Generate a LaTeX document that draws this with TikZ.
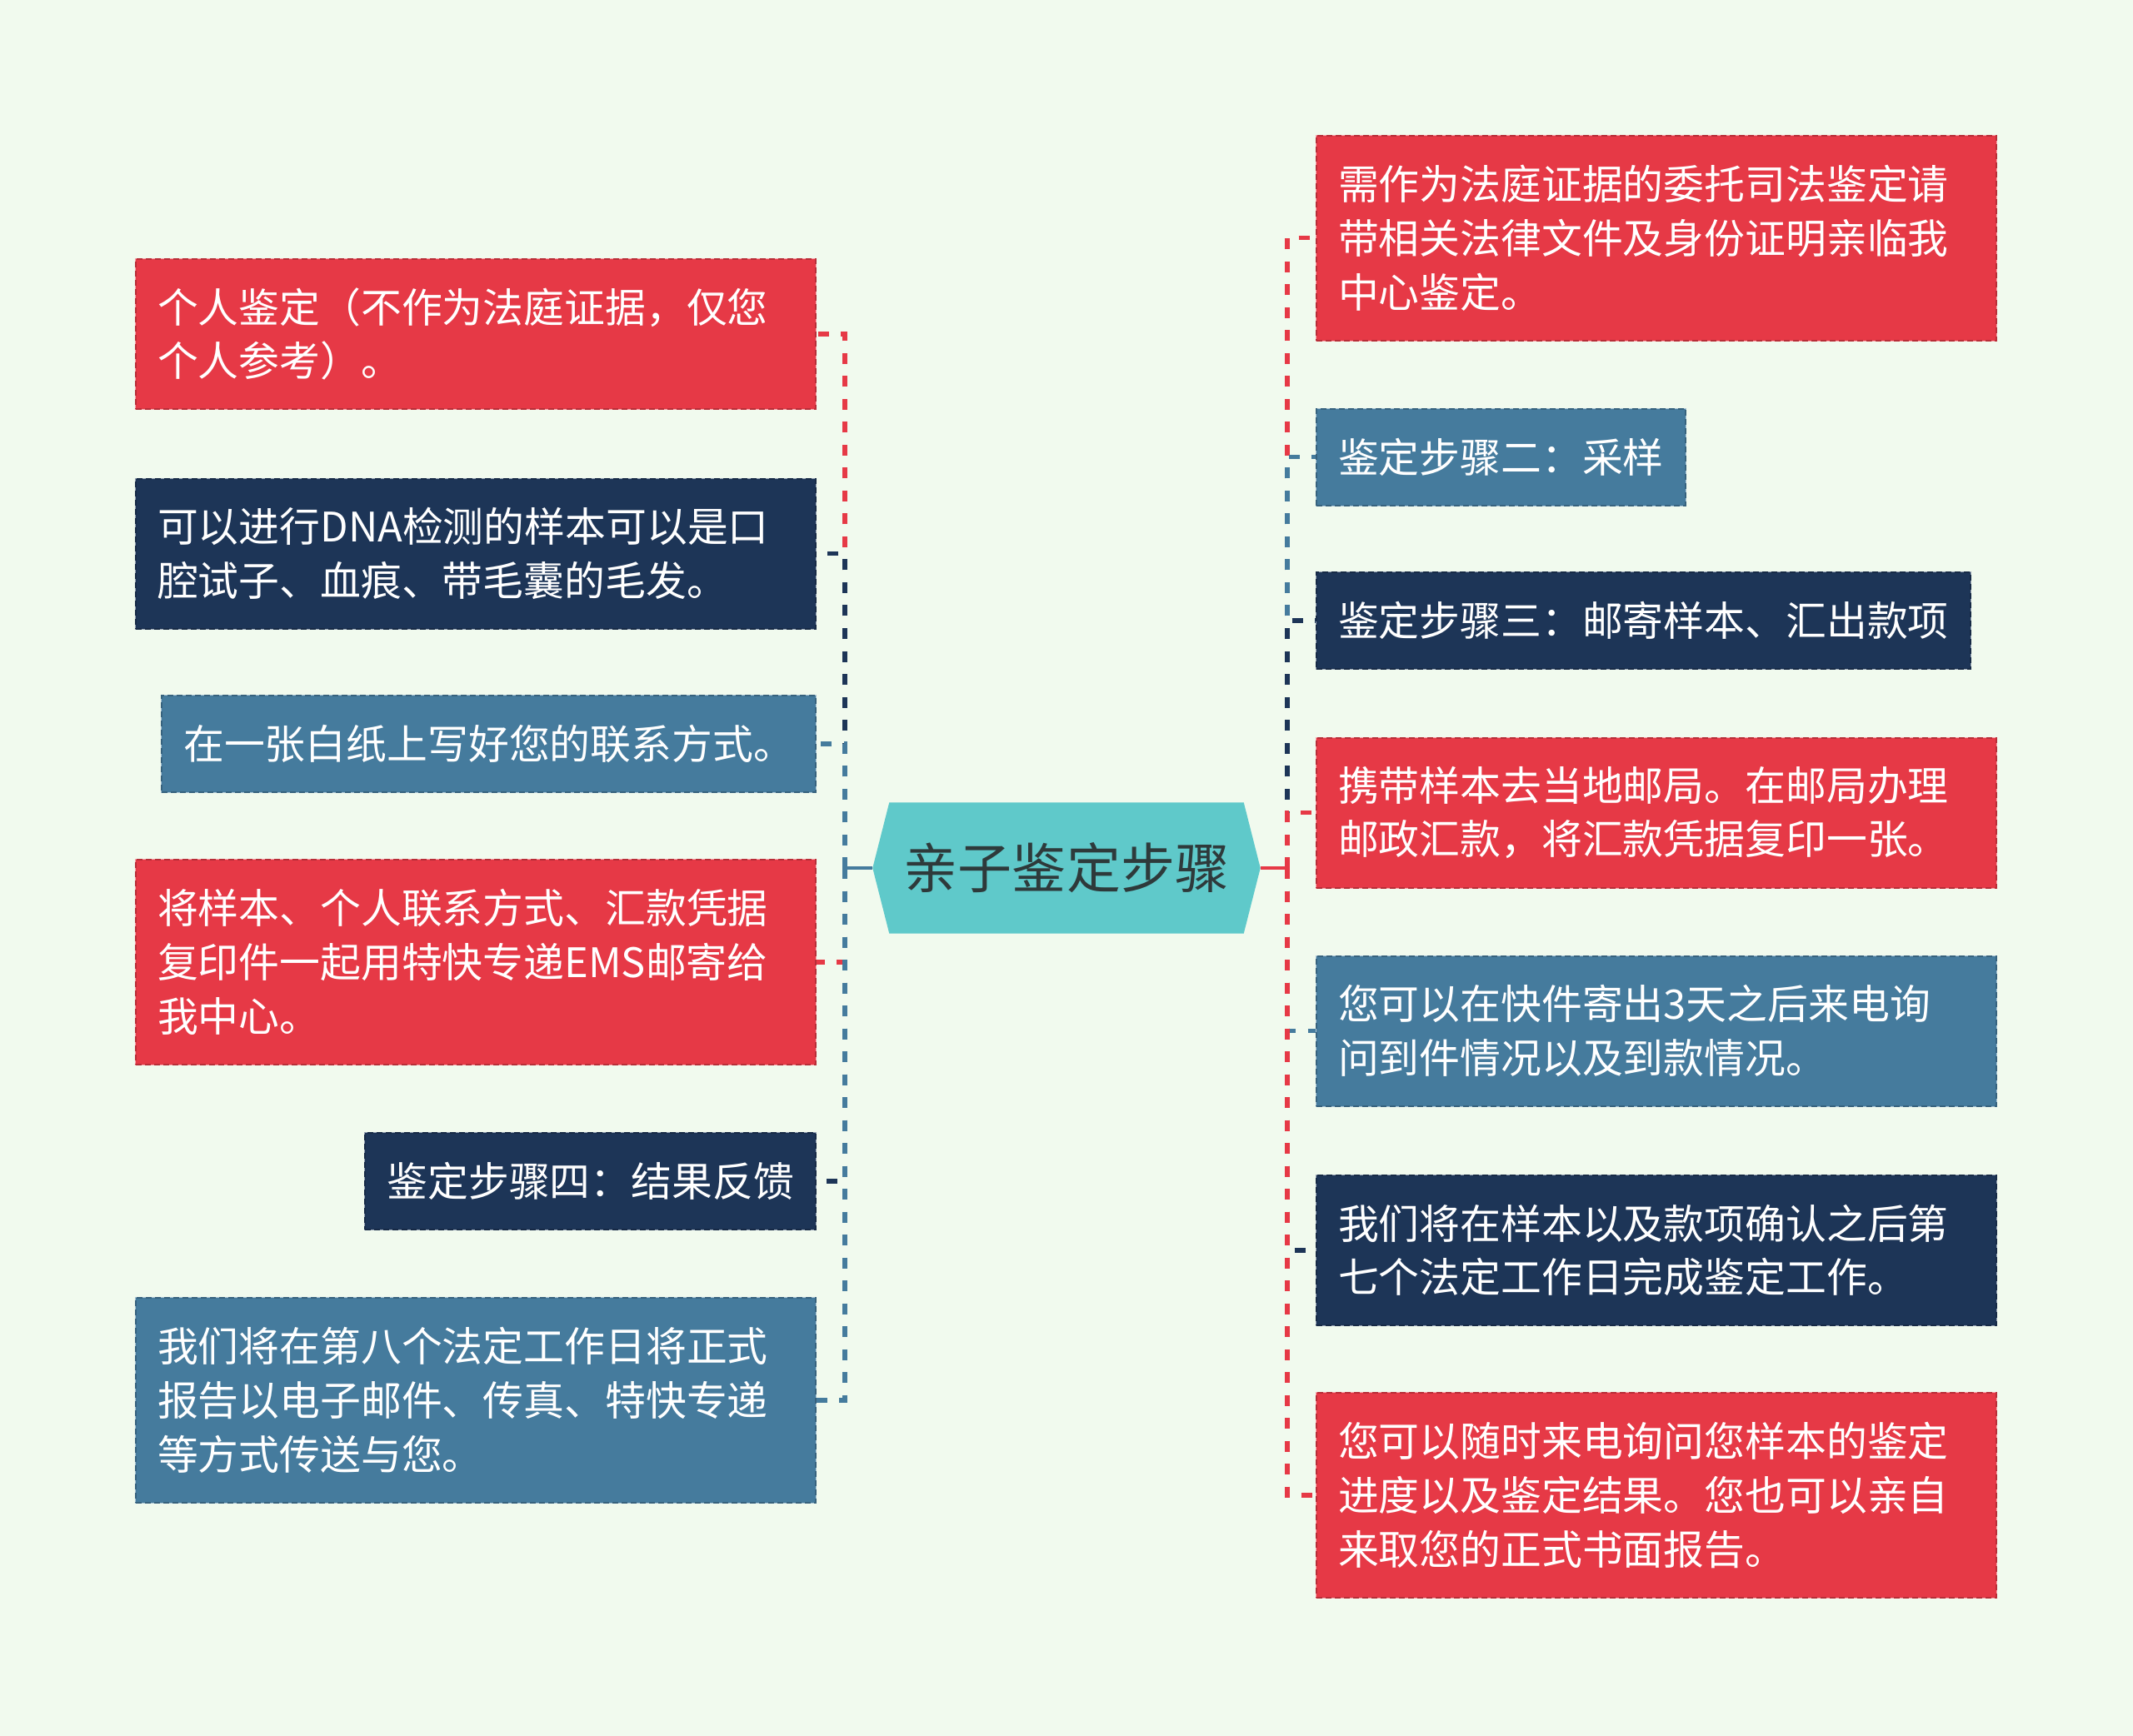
\documentclass[tikz,border=0pt]{standalone}
\usepackage{fontspec}
\setmainfont{Noto Sans CJK SC}
\usepackage{tikz}
\usetikzlibrary{calc,backgrounds}
\definecolor{cbg}{HTML}{F1FAEE}
\definecolor{cred}{HTML}{E63946}
\definecolor{cnavy}{HTML}{1D3557}
\definecolor{cblue}{HTML}{457B9D}
\definecolor{croot}{HTML}{5FC9CA}
\definecolor{croottext}{HTML}{2E3A3B}
\newcommand\leaffont{\fontsize{13.9pt}{18.45pt}\selectfont}
\newcommand\rootfont{\fontsize{18.5pt}{22pt}\selectfont}

\begin{document}
\begin{tikzpicture}[
  box/.style={rectangle, fill=#1, draw=#1!80!black, line width=0.02cm,
    dash pattern=on 0.07cm off 0.04cm,
    preaction={draw=#1!45!white, solid, line width=0.02cm},
    text=white, font=\leaffont, inner xsep=0.26cm, inner ysep=0pt, align=left},
  wide/.style={text width=7.64cm},
  one/.style={minimum height=1.16cm},
  two/.style={minimum height=1.80cm},
  three/.style={minimum height=2.46cm},
  conn/.style={draw=#1, line width=0.055cm, dash pattern=on 0.13cm off 0.145cm},
]
\begin{scope}[on background layer]
  \fill[cbg] (0,0) rectangle (25.6,-20.84);
\end{scope}
\useasboundingbox (0,0) rectangle (25.6,-20.84);

% centre
\node (root) [minimum width=4.64cm, minimum height=1.56cm, inner sep=0pt,
  font=\rootfont, text=croottext] at (12.80,-10.42) {亲子鉴定步骤};
\begin{scope}[on background layer]
  \fill[croot] (root.west) -- ($(root.north west)+(0.2,0)$) -- ($(root.north east)+(-0.2,0)$)
    -- (root.east) -- ($(root.south east)+(-0.2,0)$) -- ($(root.south west)+(0.2,0)$) -- cycle;
\end{scope}
\coordinate (ljunc) at (10.14,-10.42);
\coordinate (rjunc) at (15.45,-10.42);

% left side
\node (l1) [box=cred, wide, two, anchor=east] at (9.80,-4.01)
  {个人鉴定（不作为法庭证据，仅您\\个人参考）。};
\node (l2) [box=cnavy, wide, two, anchor=east] at (9.80,-6.645)
  {可以进行DNA检测的样本可以是口\\腔试子、血痕、带毛囊的毛发。};
\node (l3) [box=cblue, one, anchor=east] at (9.80,-8.93)
  {在一张白纸上写好您的联系方式。};
\node (l4) [box=cred, wide, three, anchor=east] at (9.80,-11.55)
  {将样本、个人联系方式、汇款凭据\\复印件一起用特快专递EMS邮寄给\\我中心。};
\node (l5) [box=cnavy, one, anchor=east] at (9.80,-14.18)
  {鉴定步骤四：结果反馈};
\node (l6) [box=cblue, wide, three, anchor=east] at (9.80,-16.81)
  {我们将在第八个法定工作日将正式\\报告以电子邮件、传真、特快专递\\等方式传送与您。};

% right side
\node (r1) [box=cred, wide, three, anchor=west] at (15.79,-2.855)
  {需作为法庭证据的委托司法鉴定请\\带相关法律文件及身份证明亲临我\\中心鉴定。};
\node (r2) [box=cblue, one, anchor=west] at (15.79,-5.485)
  {鉴定步骤二：采样};
\node (r3) [box=cnavy, one, anchor=west] at (15.79,-7.45)
  {鉴定步骤三：邮寄样本、汇出款项};
\node (r4) [box=cred, wide, two, anchor=west] at (15.79,-9.755)
  {携带样本去当地邮局。在邮局办理\\邮政汇款，将汇款凭据复印一张。};
\node (r5) [box=cblue, wide, two, anchor=west] at (15.79,-12.375)
  {您可以在快件寄出3天之后来电询\\问到件情况以及到款情况。};
\node (r6) [box=cnavy, wide, two, anchor=west] at (15.79,-15.01)
  {我们将在样本以及款项确认之后第\\七个法定工作日完成鉴定工作。};
\node (r7) [box=cred, wide, three, anchor=west] at (15.79,-17.95)
  {您可以随时来电询问您样本的鉴定\\进度以及鉴定结果。您也可以亲自\\来取您的正式书面报告。};

% connectors, top to bottom
\foreach \n/\c in {l1/cred, l2/cnavy, l3/cblue, l4/cred, l5/cnavy, l6/cblue}
  \draw[conn=\c] (ljunc) |- (\n.east);
\foreach \n/\c in {r1/cred, r2/cblue, r3/cnavy, r4/cred, r5/cblue, r6/cnavy, r7/cred}
  \draw[conn=\c] (rjunc) |- (\n.west);
\draw[cblue, line width=0.045cm] (ljunc) -- (root.west);
\draw[cred, line width=0.045cm] (root.east) -- (rjunc);
\end{tikzpicture}
\end{document}
